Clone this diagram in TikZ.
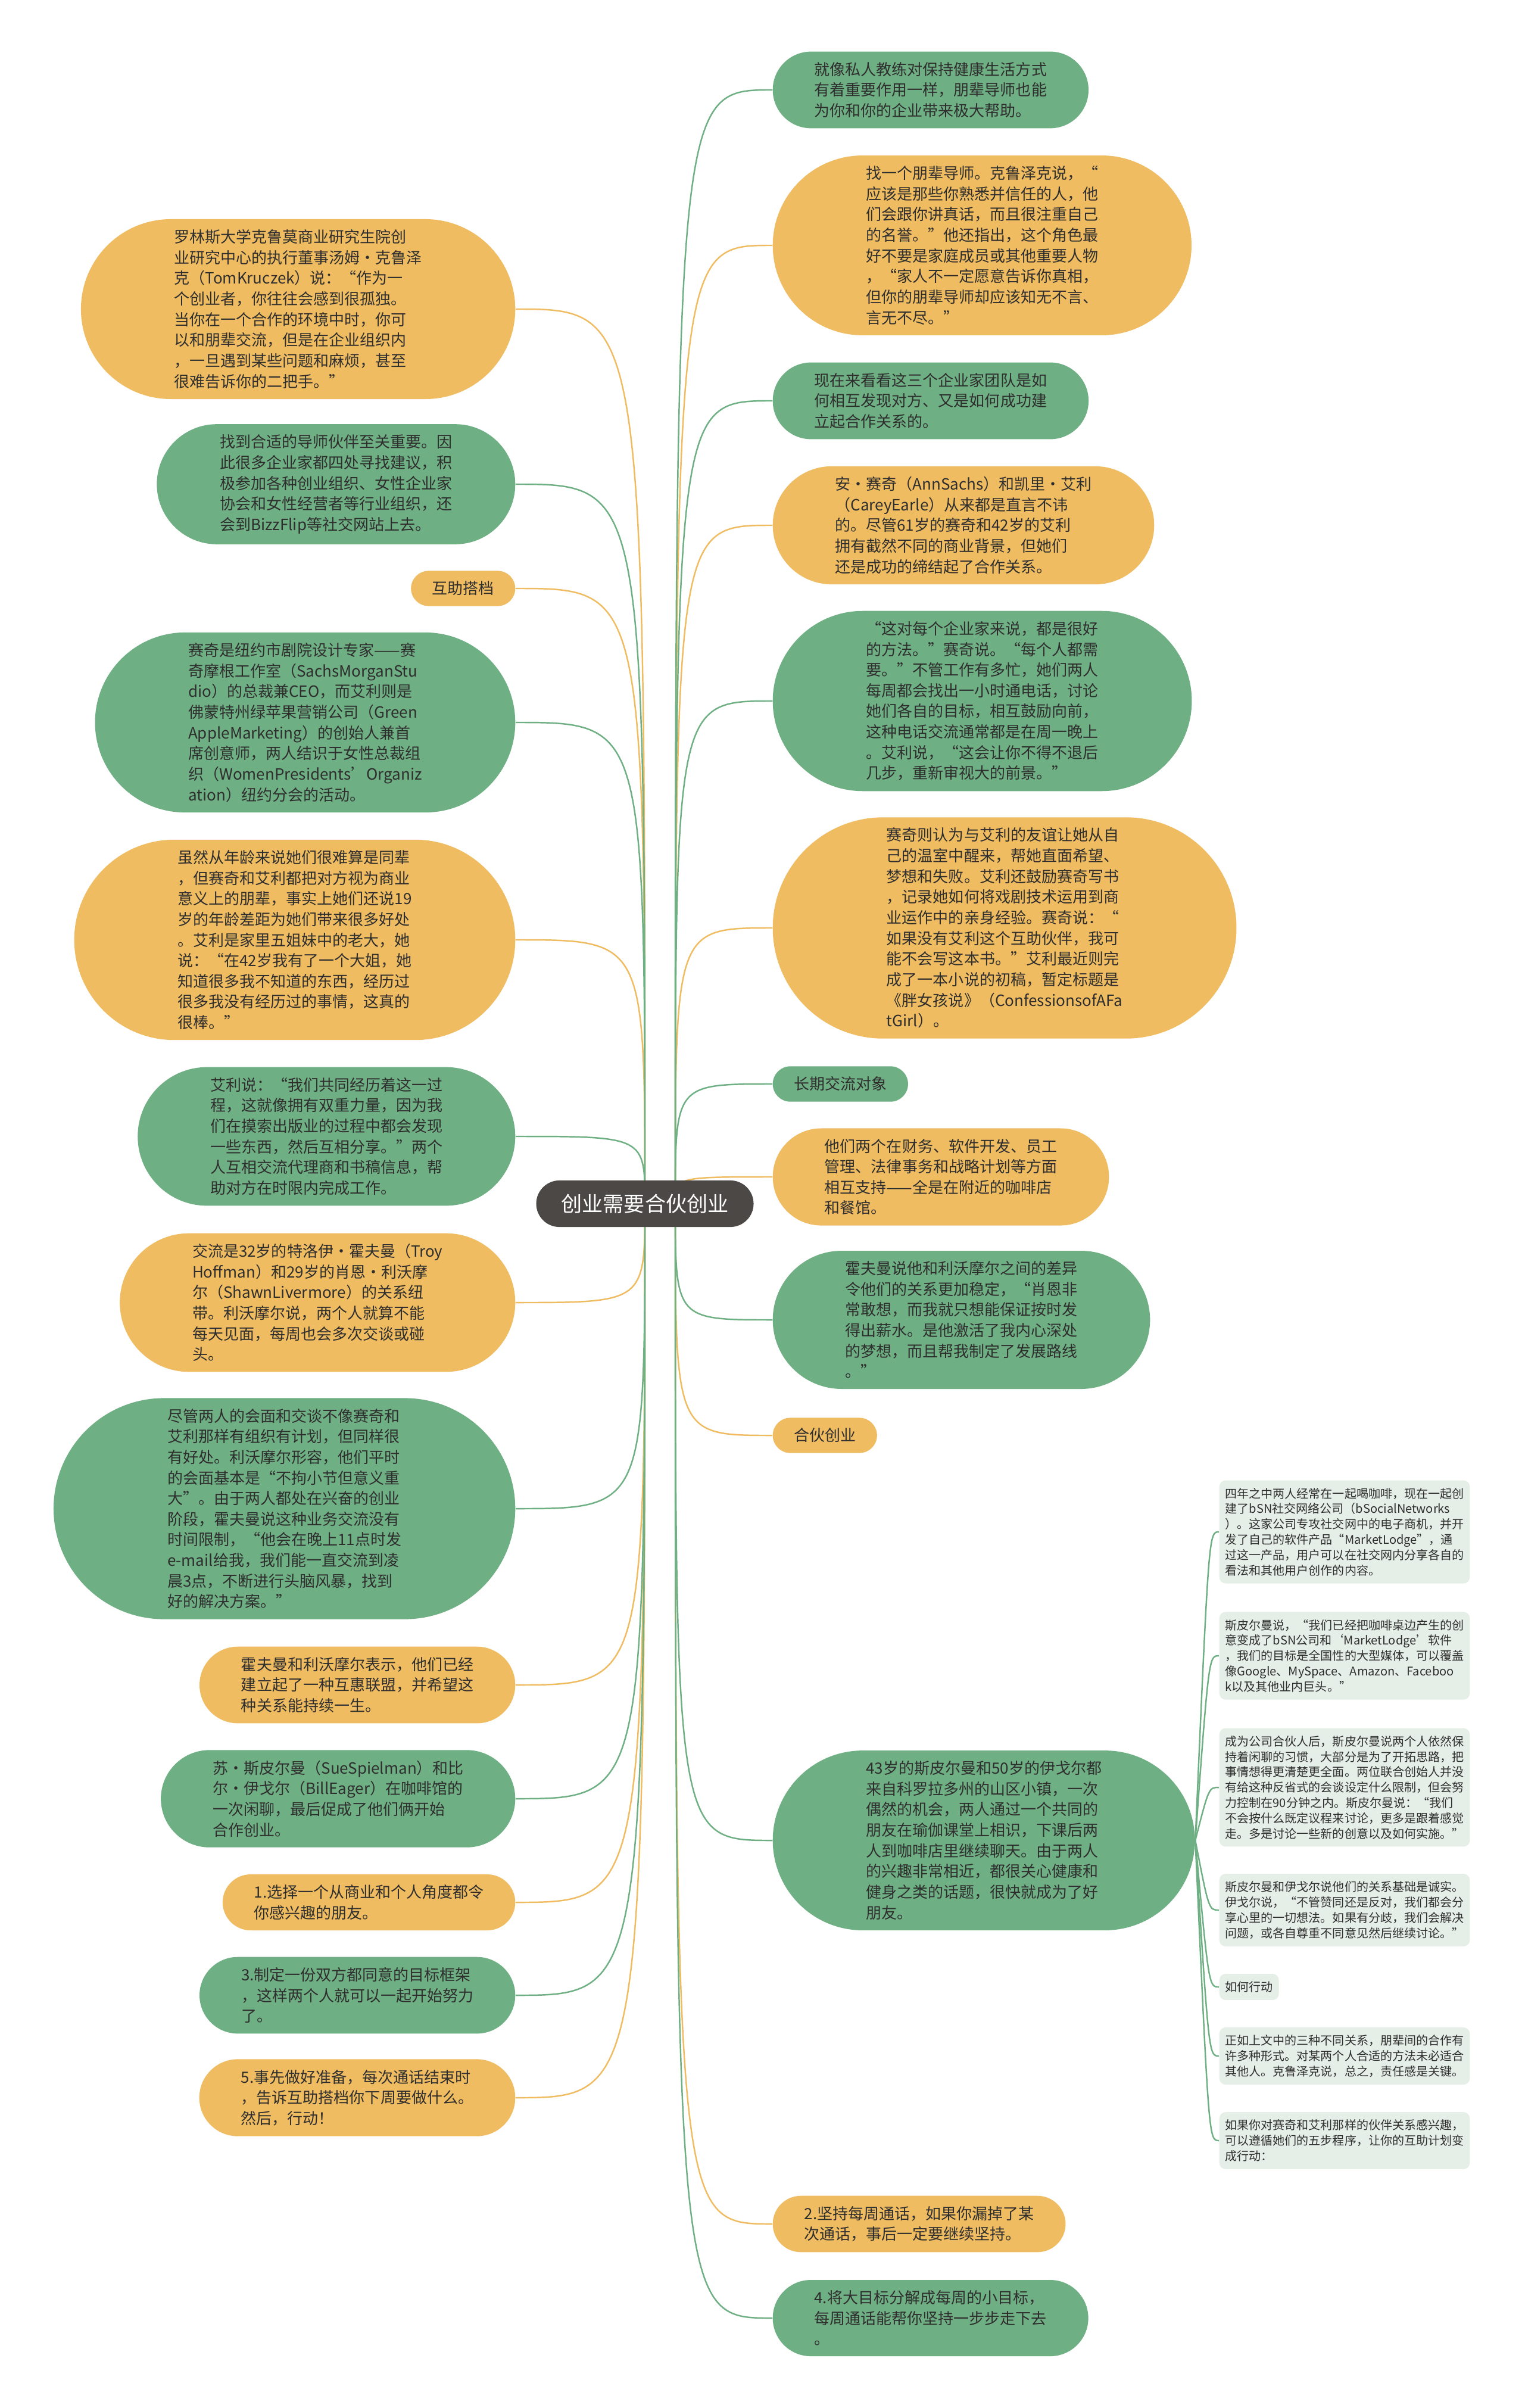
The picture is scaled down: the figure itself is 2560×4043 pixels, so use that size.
\documentclass[tikz,border=0pt]{standalone}
\usepackage{fontspec}
\setmainfont{Noto Sans CJK SC}
\usepackage{xcolor}
\definecolor{mapOrange}{HTML}{F0BC62}
\definecolor{mapGreen}{HTML}{6FAF84}
\definecolor{mapDark}{HTML}{4B4846}
\definecolor{mapNote}{HTML}{E5EEE7}
\definecolor{mapText}{HTML}{2E2E2E}
\usepackage{tikz}
\usetikzlibrary{shapes.misc, backgrounds}

\begin{document}
\begin{tikzpicture}[
		x=0.01cm, y=-0.01cm,
		% #1 = number of text lines, so the ends come out as half circles
		pill/.style={
			rounded rectangle,
			inner ysep=5pt,
			inner xsep={1.5pt+sqrt(25+5*(7.4+9.85*(#1-1)))*1pt},
			align=left,
			text=mapText,
			font={\fontsize{7.4}{9.85}\selectfont}
		},
		opill/.style={pill=#1, fill=mapOrange},
		gpill/.style={pill=#1, fill=mapGreen},
		rootbox/.style={
			rounded rectangle,
			fill=mapDark,
			text=white,
			inner xsep=10.9pt,
			inner ysep=6.5pt,
			font={\fontsize{10}{12}\selectfont}
		},
		note/.style={
			rounded corners=3pt,
			fill=mapNote,
			align=left,
			inner xsep=2.8pt,
			inner ysep=3.6pt,
			text=mapText,
			font={\fontsize{5.7}{7.34}\selectfont}
		},
		olink/.style={draw=mapOrange, line width=0.7pt},
		glink/.style={draw=mapGreen, line width=0.7pt}
		]
		
		\useasboundingbox (0,0) rectangle (2560,4043);
		
		% root
		\node[rootbox] (ctr) at (1083,2021) {创业需要合伙创业};
		\coordinate (hubL) at (1083,2021);
		\coordinate (hubR) at (1134,2021);
		
		% left side
		\node[opill=8, anchor=east] (mentor) at (866,519) {罗林斯大学克鲁莫商业研究生院创\\业研究中心的执行董事汤姆·克鲁泽\\克（TomKruczek）说：“作为一\\个创业者，你往往会感到很孤独。\\当你在一个合作的环境中时，你可\\以和朋辈交流，但是在企业组织内\\，一旦遇到某些问题和麻烦，甚至\\很难告诉你的二把手。”};
		\node[gpill=5, anchor=east] (find) at (866,813) {找到合适的导师伙伴至关重要。因\\此很多企业家都四处寻找建议，积\\极参加各种创业组织、女性企业家\\协会和女性经营者等行业组织，还\\会到BizzFlip等社交网站上去。};
		\node[opill=1, anchor=east] (partner) at (866,988) {互助搭档};
		\node[gpill=8, anchor=east] (sachs) at (866,1213) {赛奇是纽约市剧院设计专家——赛\\奇摩根工作室（SachsMorganStu\\dio）的总裁兼CEO，而艾利则是\\佛蒙特州绿苹果营销公司（Green\\AppleMarketing）的创始人兼首\\席创意师，两人结识于女性总裁组\\织（WomenPresidents’Organiz\\ation）纽约分会的活动。};
		\node[opill=9, anchor=east] (ages) at (866,1578) {虽然从年龄来说她们很难算是同辈\\，但赛奇和艾利都把对方视为商业\\意义上的朋辈，事实上她们还说19\\岁的年龄差距为她们带来很多好处\\。艾利是家里五姐妹中的老大，她\\说：“在42岁我有了一个大姐，她\\知道很多我不知道的东西，经历过\\很多我没有经历过的事情，这真的\\很棒。”};
		\node[gpill=6, anchor=east] (earle) at (866,1908) {艾利说：“我们共同经历着这一过\\程，这就像拥有双重力量，因为我\\们在摸索出版业的过程中都会发现\\一些东西，然后互相分享。”两个\\人互相交流代理商和书稿信息，帮\\助对方在时限内完成工作。};
		\node[opill=6, anchor=east] (troy) at (866,2187) {交流是32岁的特洛伊·霍夫曼（Troy\\Hoffman）和29岁的肖恩·利沃摩\\尔（ShawnLivermore）的关系纽\\带。利沃摩尔说，两个人就算不能\\每天见面，每周也会多次交谈或碰\\头。};
		\node[gpill=10, anchor=east] (talks) at (866,2533) {尽管两人的会面和交谈不像赛奇和\\艾利那样有组织有计划，但同样很\\有好处。利沃摩尔形容，他们平时\\的会面基本是“不拘小节但意义重\\大”。由于两人都处在兴奋的创业\\阶段，霍夫曼说这种业务交流没有\\时间限制，“他会在晚上11点时发\\e-mail给我，我们能一直交流到凌\\晨3点，不断进行头脑风暴，找到\\好的解决方案。”};
		\node[opill=3, anchor=east] (alliance) at (866,2829) {霍夫曼和利沃摩尔表示，他们已经\\建立起了一种互惠联盟，并希望这\\种关系能持续一生。};
		\node[gpill=4, anchor=east] (sue) at (866,3020) {苏·斯皮尔曼（SueSpielman）和比\\尔·伊戈尔（BillEager）在咖啡馆的\\一次闲聊，最后促成了他们俩开始\\合作创业。};
		\node[opill=2, anchor=east] (step1) at (866,3194) {1.选择一个从商业和个人角度都令\\你感兴趣的朋友。};
		\node[gpill=3, anchor=east] (step3) at (866,3350) {3.制定一份双方都同意的目标框架\\，这样两个人就可以一起开始努力\\了。};
		\node[opill=3, anchor=east] (step5) at (866,3522) {5.事先做好准备，每次通话结束时\\，告诉互助搭档你下周要做什么。\\然后，行动！};
		
		% right side
		\node[gpill=3, anchor=west] (trainer) at (1297,151) {就像私人教练对保持健康生活方式\\有着重要作用一样，朋辈导师也能\\为你和你的企业带来极大帮助。};
		\node[opill=8, anchor=west] (peer) at (1297,412) {找一个朋辈导师。克鲁泽克说，“\\应该是那些你熟悉并信任的人，他\\们会跟你讲真话，而且很注重自己\\的名誉。”他还指出，这个角色最\\好不要是家庭成员或其他重要人物\\，“家人不一定愿意告诉你真相，\\但你的朋辈导师却应该知无不言、\\言无不尽。”};
		\node[gpill=3, anchor=west] (teams) at (1297,673) {现在来看看这三个企业家团队是如\\何相互发现对方、又是如何成功建\\立起合作关系的。};
		\node[opill=5, anchor=west] (ann) at (1297,882) {安·赛奇（AnnSachs）和凯里·艾利\\（CareyEarle）从来都是直言不讳\\的。尽管61岁的赛奇和42岁的艾利\\拥有截然不同的商业背景，但她们\\还是成功的缔结起了合作关系。};
		\node[gpill=8, anchor=west] (method) at (1297,1177) {“这对每个企业家来说，都是很好\\的方法。”赛奇说。“每个人都需\\要。”不管工作有多忙，她们两人\\每周都会找出一小时通电话，讨论\\她们各自的目标，相互鼓励向前，\\这种电话交流通常都是在周一晚上\\。艾利说，“这会让你不得不退后\\几步，重新审视大的前景。”};
		\node[opill=10, anchor=west] (friendship) at (1297,1558) {赛奇则认为与艾利的友谊让她从自\\己的温室中醒来，帮她直面希望、\\梦想和失败。艾利还鼓励赛奇写书\\，记录她如何将戏剧技术运用到商\\业运作中的亲身经验。赛奇说：“\\如果没有艾利这个互助伙伴，我可\\能不会写这本书。”艾利最近则完\\成了一本小说的初稿，暂定标题是\\《胖女孩说》（ConfessionsofAFa\\tGirl）。};
		\node[gpill=1, anchor=west] (longterm) at (1297,1820) {长期交流对象};
		\node[opill=4, anchor=west] (support) at (1297,1976) {他们两个在财务、软件开发、员工\\管理、法律事务和战略计划等方面\\相互支持——全是在附近的咖啡店\\和餐馆。};
		\node[gpill=6, anchor=west] (diff) at (1297,2216) {霍夫曼说他和利沃摩尔之间的差异\\令他们的关系更加稳定，“肖恩非\\常敢想，而我就只想能保证按时发\\得出薪水。是他激活了我内心深处\\的梦想，而且帮我制定了发展路线\\。”};
		\node[opill=1, anchor=west] (venture) at (1297,2410) {合伙创业};
		\node[gpill=8, anchor=west] (spiel) at (1297,3090) {43岁的斯皮尔曼和50岁的伊戈尔都\\来自科罗拉多州的山区小镇，一次\\偶然的机会，两人通过一个共同的\\朋友在瑜伽课堂上相识，下课后两\\人到咖啡店里继续聊天。由于两人\\的兴趣非常相近，都很关心健康和\\健身之类的话题，很快就成为了好\\朋友。};
		\node[opill=2, anchor=west] (step2) at (1297,3734) {2.坚持每周通话，如果你漏掉了某\\次通话，事后一定要继续坚持。};
		\node[gpill=3, anchor=west] (step4) at (1297,3892) {4.将大目标分解成每周的小目标，\\每周通话能帮你坚持一步步走下去\\。};
		
		% notes
		\coordinate (fhub) at (2030,3090);
		\node[note, anchor=west] (bsn) at (2047,2572) {四年之中两人经常在一起喝咖啡，现在一起创\\建了bSN社交网络公司（bSocialNetworks\\）。这家公司专攻社交网中的电子商机，并开\\发了自己的软件产品“MarketLodge”，通\\过这一产品，用户可以在社交网内分享各自的\\看法和其他用户创作的内容。};
		\node[note, anchor=west] (quote) at (2047,2780) {斯皮尔曼说，“我们已经把咖啡桌边产生的创\\意变成了bSN公司和‘MarketLodge’软件\\，我们的目标是全国性的大型媒体，可以覆盖\\像Google、MySpace、Amazon、Faceboo\\k以及其他业内巨头。”};
		\node[note, anchor=west] (habit) at (2047,3001) {成为公司合伙人后，斯皮尔曼说两个人依然保\\持着闲聊的习惯，大部分是为了开拓思路，把\\事情想得更清楚更全面。两位联合创始人并没\\有给这种反省式的会谈设定什么限制，但会努\\力控制在90分钟之内。斯皮尔曼说：“我们\\不会按什么既定议程来讨论，更多是跟着感觉\\走。多是讨论一些新的创意以及如何实施。”};
		\node[note, anchor=west] (honest) at (2047,3207) {斯皮尔曼和伊戈尔说他们的关系基础是诚实。\\伊戈尔说，“不管赞同还是反对，我们都会分\\享心里的一切想法。如果有分歧，我们会解决\\问题，或各自尊重不同意见然后继续讨论。”};
		\node[note, anchor=west] (howto) at (2047,3336) {如何行动};
		\node[note, anchor=west] (forms) at (2047,3452) {正如上文中的三种不同关系，朋辈间的合作有\\许多种形式。对某两个人合适的方法未必适合\\其他人。克鲁泽克说，总之，责任感是关键。};
		\node[note, anchor=west] (five) at (2047,3594) {如果你对赛奇和艾利那样的伙伴关系感兴趣，\\可以遵循她们的五步程序，让你的互助计划变\\成行动：};
		
		\begin{scope}[on background layer]
			\fill[white] (0,0) rectangle (2560,4043);
			\foreach \n in {mentor, partner, ages, troy, alliance, step1, step5}
				\draw[olink] (hubL) .. controls (hubL |- \n) .. (\n.east);
			\foreach \n in {find, sachs, earle, talks, sue, step3}
				\draw[glink] (hubL) .. controls (hubL |- \n) .. (\n.east);
			\foreach \n in {peer, ann, friendship, support, venture, step2}
				\draw[olink] (hubR) .. controls (hubR |- \n) .. (\n.west);
			\foreach \n in {trainer, teams, method, longterm, diff, spiel, step4}
				\draw[glink] (hubR) .. controls (hubR |- \n) .. (\n.west);
			\foreach \n in {bsn, quote, habit, honest, howto, forms, five}
				\draw[glink] (spiel.east) .. controls (fhub |- \n) .. (\n.west);
		\end{scope}
		
	\end{tikzpicture}
\end{document}
